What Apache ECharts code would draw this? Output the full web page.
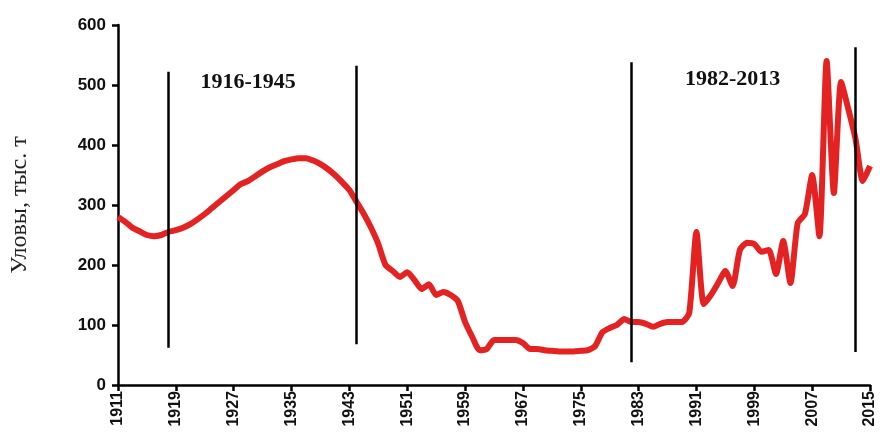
<!DOCTYPE html>
<html lang="ru">
<head>
<meta charset="UTF-8">
<script src="https://cdn.jsdelivr.net/npm/echarts@6/dist/echarts.min.js"></script>
<style>
  * { margin: 0; padding: 0 }
  html, body { width: 100%; height: 100%; background: #fff }
  #main { width: 883px; height: 447px }
</style>
</head>
<body>
<div id="main"></div>
<script>
  // годы 1911..2015
  var years = [];
  for (var y = 1911; y <= 2015; y++) years.push(String(y));

  // уловы, тыс. т (по картинке)
  var catches = [
    280, 272, 262, 256, 250, 248, 250, 255, 258, 262,
    268, 276, 285, 295, 305, 315, 325, 335, 340, 348,
    356, 363, 368, 373, 376, 378, 378, 374, 368, 360,
    350, 338, 325, 305, 285, 262, 235, 200, 190, 180,
    188, 175, 160, 168, 150, 155, 150, 140, 105, 80,
    58, 60, 75, 75, 75, 75, 70, 60, 60, 58,
    57, 56, 56, 56, 57, 58, 65, 88, 95, 100,
    110, 105, 105, 102, 97, 102, 105, 105, 105, 120,
    255, 135, 150, 170, 190, 165, 225, 237, 235, 222,
    225, 185, 240, 170, 270, 285, 350, 248, 540, 320,
    505, 460, 410, 340, 365
  ];

  // вертикальные отметки периодов: [год, низ, верх]
  var periodLines = [
    ['1918', 62, 522],
    ['1944', 68, 532],
    ['1982', 38, 538],
    ['2013', 55, 563]
  ];
  var periodLabels = [['1929', 505, '1916-1945'], ['1996', 510, '1982-2013']];

  var chart = echarts.init(document.getElementById('main'));
  chart.setOption({
    animation: false,
    grid: { left: 118, right: 13, top: 25, bottom: 62 },
    xAxis: {
      type: 'category',
      data: years,
      boundaryGap: false,
      axisLine: { lineStyle: { color: '#000', width: 2.5 } },
      axisTick: { interval: 7, length: 6, lineStyle: { color: '#000', width: 2.5 } },
      axisLabel: { interval: 7, rotate: 90, color: '#111', fontFamily: 'Liberation Sans', fontWeight: 'bold', fontSize: 16, margin: 6 }
    },
    yAxis: {
      type: 'value',
      min: 0, max: 600, interval: 100,
      name: 'Уловы, тыс. т',
      nameLocation: 'middle',
      nameGap: 86,
      nameTextStyle: { fontFamily: 'Liberation Serif', fontSize: 24, color: '#222' },
      splitLine: { show: false },
      axisLine: { show: true, lineStyle: { color: '#000', width: 2.5 } },
      axisTick: { show: true, length: 6, lineStyle: { color: '#000', width: 2.5 } },
      axisLabel: { color: '#111', fontFamily: 'Liberation Sans', fontWeight: 'bold', fontSize: 17, margin: 12 }
    },
    series: [{
      type: 'line',
      data: catches,
      symbol: 'none',
      smooth: 0.2,
      lineStyle: { color: '#e52222', width: 6 },
      markLine: {
        symbol: 'none',
        silent: true,
        label: { show: false },
        lineStyle: { color: '#000', width: 2.5, type: 'solid' },
        data: periodLines.map(function (p) {
          return [{ coord: [p[0], p[1]] }, { coord: [p[0], p[2]] }];
        })
      },
      markPoint: {
        symbol: 'circle', symbolSize: 0,
        label: { show: true, color: '#111', fontFamily: 'Liberation Serif', fontWeight: 'bold', fontSize: 22,
                 formatter: function (d) { return d.name; } },
        data: periodLabels.map(function (p) { return { name: p[2], coord: [p[0], p[1]] }; })
      }
    }]
  });
</script>
</body>
</html>
